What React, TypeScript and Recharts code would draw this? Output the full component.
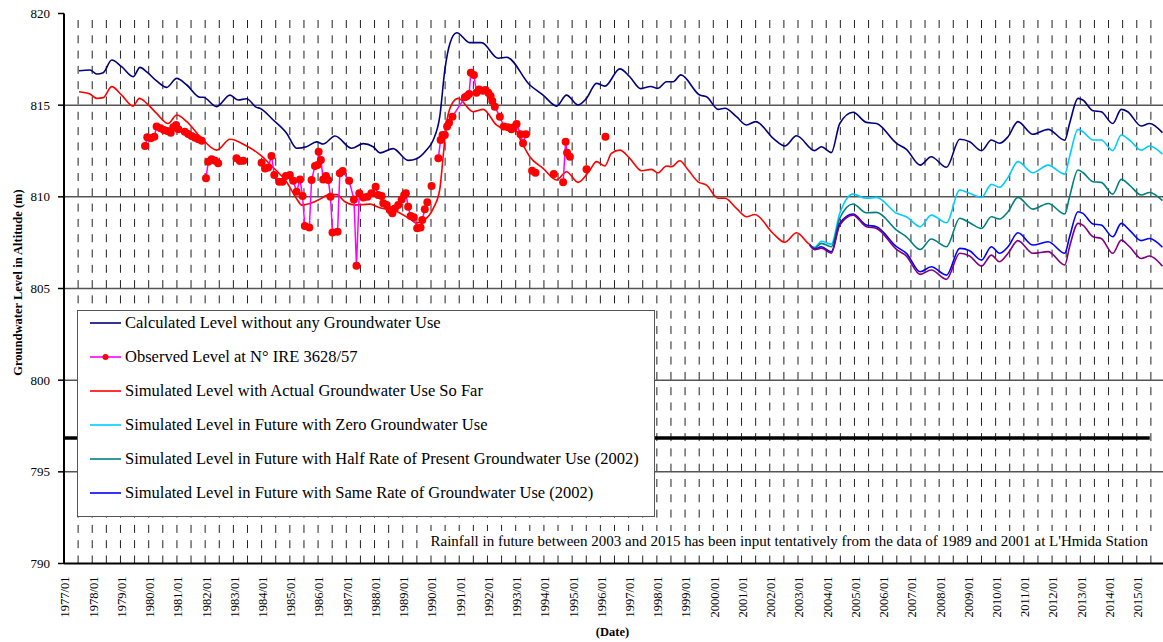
import React from "react";
import { Legend, Line, LineChart, ReferenceLine, XAxis, YAxis } from "recharts";

type Pt = [number, number | null];

// decimal year, level (m)
const calculated: Pt[] = [
  [1977.53, 816.88], [1977.92, 816.92], [1978.16, 816.7], [1978.39, 816.77], [1978.69, 817.46],
  [1979.04, 817.1], [1979.45, 816.55], [1979.69, 817.06], [1979.93, 816.82], [1980.28, 816.32],
  [1980.64, 815.97], [1980.99, 816.46], [1981.35, 816.1], [1981.82, 815.43], [1981.93, 815.43],
  [1982.41, 814.92], [1982.88, 815.55], [1983.17, 815.28], [1983.47, 815.35], [1983.82, 814.88],
  [1983.94, 814.83], [1984.41, 814.19], [1984.89, 813.46], [1985.24, 812.65], [1985.59, 812.73],
  [1985.95, 813.0], [1986.18, 812.88], [1986.6, 813.32], [1987.19, 812.65], [1987.6, 812.9],
  [1987.95, 812.73], [1988.19, 812.4], [1988.66, 812.63], [1989.19, 811.99], [1989.49, 812.08],
  [1989.84, 812.55], [1990.08, 813.1], [1990.31, 814.37], [1990.49, 816.92], [1990.67, 818.37],
  [1990.91, 818.95], [1991.38, 818.41], [1991.79, 818.41], [1992.38, 817.56], [1992.68, 817.61],
  [1993.5, 816.1], [1993.97, 815.55], [1994.45, 814.95], [1994.8, 815.55], [1995.21, 815.01],
  [1995.51, 815.37], [1995.86, 816.19], [1996.16, 816.04], [1996.69, 816.98], [1997.04, 816.55],
  [1997.43, 815.9], [1997.78, 816.02], [1998.04, 815.92], [1998.34, 816.28], [1998.58, 816.28],
  [1998.85, 816.65], [1999.52, 815.55], [1999.76, 815.46], [2000.17, 814.77], [2000.41, 814.83],
  [2000.82, 814.37], [2001.18, 813.92], [2001.5, 814.1], [2002.15, 813.15], [2002.53, 812.77],
  [2002.95, 813.33], [2003.59, 812.52], [2003.83, 812.73], [2004.18, 812.41], [2004.48, 814.0],
  [2004.95, 814.61], [2005.42, 814.06], [2005.78, 814.0], [2006.49, 812.92], [2006.84, 812.59],
  [2007.33, 811.73], [2007.72, 812.19], [2008.26, 811.61], [2008.73, 813.14], [2009.08, 813.0],
  [2009.5, 812.52], [2009.85, 813.1], [2010.14, 812.92], [2010.44, 813.28], [2010.79, 814.1],
  [2011.32, 813.41], [2011.86, 813.68], [2012.45, 813.09], [2012.62, 814.0], [2012.92, 815.37],
  [2013.09, 815.28], [2013.45, 814.7], [2013.74, 814.64], [2014.15, 814.0], [2014.45, 814.77],
  [2014.68, 814.64], [2015.16, 813.86], [2015.45, 814.0], [2015.91, 813.5],
];

// null = no reading, the line breaks there
const observed: Pt[] = [
  [1979.87, 812.77], [1979.95, 813.25], [1980.07, 813.19], [1980.2, 813.28], [1980.28, 813.83],
  [1980.42, 813.74], [1980.54, 813.64], [1980.66, 813.59], [1980.78, 813.5], [1980.87, 813.79],
  [1980.97, 813.92], [1981.05, 813.68], [1981.28, 813.55], [1981.4, 813.43], [1981.52, 813.32],
  [1981.64, 813.22], [1981.76, 813.14], [1981.88, 813.06], [1981.95, null],
  [1982.03, 811.01], [1982.11, 811.92], [1982.23, 812.05], [1982.35, 811.97], [1982.46, 811.83],
  [1982.8, null],
  [1983.11, 812.1], [1983.23, 811.95], [1983.35, 811.97], [1983.7, null],
  [1984.0, 811.86], [1984.12, 811.55], [1984.23, 811.6], [1984.35, 812.23], [1984.45, 811.19],
  [1984.62, 810.82], [1984.74, 810.82], [1984.86, 811.13], [1985.0, 811.19], [1985.12, 810.88],
  [1985.24, 810.28], [1985.36, 810.95], [1985.45, 810.04], [1985.53, 808.41], [1985.69, 808.33],
  [1985.77, 810.92], [1985.89, 811.68], [1985.98, 811.73], [1986.02, 812.46], [1986.1, 812.01],
  [1986.18, 810.95], [1986.28, 811.13], [1986.36, 810.92], [1986.44, 810.01], [1986.51, 808.06],
  [1986.69, 808.1], [1986.77, 811.28], [1986.87, 811.41], [1987.1, 810.88], [1987.27, 809.86],
  [1987.36, 806.24], [1987.46, 810.19], [1987.6, 809.97], [1987.75, 810.0], [1987.89, 810.19],
  [1988.04, 810.55], [1988.13, 810.1], [1988.25, 810.04], [1988.31, 809.65], [1988.43, 809.55],
  [1988.54, 809.28], [1988.63, 809.1], [1988.72, 809.37], [1988.84, 809.55], [1988.96, 809.86],
  [1989.05, 810.1], [1989.11, 810.19], [1989.19, 809.46], [1989.28, 808.95], [1989.39, 808.88],
  [1989.51, 808.28], [1989.63, 808.33], [1989.69, 808.73], [1989.78, 809.32], [1989.87, 809.7],
  [1989.95, null], [1990.02, 810.59], [1990.15, null],
  [1990.26, 812.1], [1990.34, 813.1], [1990.41, 813.37], [1990.49, 813.37], [1990.57, 813.83],
  [1990.64, 814.04], [1990.76, 814.37], [1991.2, 815.43], [1991.28, 815.5], [1991.35, 815.61],
  [1991.41, 816.77], [1991.52, 816.64], [1991.61, 815.68], [1991.7, 815.86], [1991.83, 815.79],
  [1991.93, 815.83], [1992.03, 815.68], [1992.11, 815.5], [1992.17, 815.23], [1992.26, 814.92],
  [1992.44, 814.37], [1992.58, 813.83], [1992.73, 813.79], [1992.85, 813.68], [1992.93, 813.79],
  [1993.03, 813.97], [1993.17, 813.41], [1993.26, 812.92], [1993.36, 813.41], [1993.47, null],
  [1993.58, 811.42], [1993.7, 811.31], [1994.0, null],
  [1994.35, 811.24], [1994.5, null],
  [1994.68, 810.79], [1994.77, 813.0], [1994.82, 812.41], [1994.92, 812.19], [1995.2, null],
  [1995.51, 811.5], [1995.8, null],
  [1996.18, 813.28],
];

const simulatedActual: Pt[] = [
  [1977.53, 815.73], [1977.92, 815.61], [1978.16, 815.37], [1978.39, 815.41], [1978.69, 816.01],
  [1979.04, 815.55], [1979.45, 814.95], [1979.67, 815.37], [1979.93, 815.1], [1980.28, 814.55],
  [1980.69, 814.0], [1980.99, 814.46], [1981.35, 814.1], [1981.82, 813.28], [1982.41, 812.55],
  [1982.88, 813.14], [1983.47, 812.77], [1983.94, 812.3], [1984.41, 811.6], [1984.89, 810.8],
  [1985.24, 809.9], [1985.42, 809.55], [1985.83, 809.7], [1986.01, 809.83], [1986.42, 810.12],
  [1986.66, 810.12], [1986.95, 809.73], [1987.3, 809.55], [1987.84, 809.6], [1988.19, 809.4],
  [1988.78, 809.2], [1989.25, 808.8], [1989.49, 808.58], [1989.72, 808.69], [1990.08, 809.37],
  [1990.31, 810.4], [1990.43, 812.2], [1990.55, 814.0], [1990.72, 815.0], [1990.96, 815.37],
  [1991.49, 814.64], [1991.85, 814.77], [1992.32, 813.92], [1992.56, 813.74], [1992.85, 813.92],
  [1993.26, 812.83], [1993.5, 812.19], [1993.97, 811.55], [1994.45, 810.92], [1994.8, 811.37],
  [1995.21, 810.79], [1995.63, 811.46], [1995.86, 811.92], [1996.16, 811.68], [1996.39, 812.37],
  [1996.69, 812.55], [1997.04, 812.1], [1997.46, 811.42], [1997.81, 811.5], [1998.04, 811.31],
  [1998.34, 811.68], [1998.52, 811.64], [1998.81, 811.97], [1999.11, 811.46], [1999.46, 810.82],
  [1999.76, 810.64], [2000.17, 809.92], [2000.41, 809.92], [2000.82, 809.37], [2001.18, 808.91],
  [2001.47, 809.04], [2002.12, 808.0], [2002.53, 807.52], [2002.95, 808.04], [2003.36, 807.46],
  [2003.45, 807.35],
];

const futureZero: Pt[] = [
  [2003.42, 807.37], [2003.59, 807.25], [2003.83, 807.58], [2004.18, 807.42], [2004.48, 809.1],
  [2004.95, 810.15], [2005.42, 809.92], [2005.78, 809.97], [2006.49, 809.1], [2006.84, 808.91],
  [2007.33, 808.37], [2007.72, 809.0], [2008.26, 808.59], [2008.73, 810.37], [2009.08, 810.19],
  [2009.5, 809.97], [2009.85, 810.68], [2010.14, 810.52], [2010.44, 811.06], [2010.79, 811.92],
  [2011.32, 811.31], [2011.86, 811.73], [2012.45, 811.24], [2012.62, 812.19], [2012.92, 813.68],
  [2013.09, 813.55], [2013.45, 813.1], [2013.74, 813.1], [2014.15, 812.52], [2014.45, 813.37],
  [2014.74, 813.1], [2015.16, 812.55], [2015.45, 812.77], [2015.91, 812.33],
];

const futureHalf: Pt[] = [
  [2003.42, 807.37], [2003.59, 807.2], [2003.83, 807.46], [2004.18, 807.28], [2004.48, 808.83],
  [2004.95, 809.61], [2005.42, 809.13], [2005.78, 809.15], [2006.49, 808.19], [2006.84, 807.82],
  [2007.33, 807.13], [2007.72, 807.7], [2008.26, 807.28], [2008.73, 808.83], [2009.08, 808.59],
  [2009.5, 808.28], [2009.85, 808.91], [2010.14, 808.79], [2010.44, 809.19], [2010.79, 809.97],
  [2011.32, 809.33], [2011.86, 809.64], [2012.45, 809.06], [2012.62, 810.01], [2012.92, 811.46],
  [2013.09, 811.33], [2013.45, 810.82], [2013.74, 810.79], [2014.15, 810.15], [2014.45, 810.95],
  [2014.74, 810.64], [2015.16, 810.1], [2015.45, 810.24], [2015.91, 809.79],
];

const futureSame: Pt[] = [
  [2003.42, 807.37], [2003.59, 807.15], [2003.83, 807.28], [2004.18, 807.0], [2004.48, 808.55],
  [2004.95, 809.06], [2005.42, 808.46], [2005.78, 808.37], [2006.49, 807.28], [2006.84, 806.92],
  [2007.33, 805.91], [2007.72, 806.19], [2008.26, 805.73], [2008.73, 807.19], [2009.08, 807.06],
  [2009.5, 806.55], [2009.85, 807.28], [2010.14, 806.92], [2010.44, 807.28], [2010.79, 808.04],
  [2011.32, 807.37], [2011.86, 807.55], [2012.45, 806.92], [2012.62, 807.82], [2012.92, 809.19],
  [2013.09, 809.1], [2013.45, 808.52], [2013.74, 808.46], [2014.15, 807.82], [2014.45, 808.55],
  [2014.74, 808.19], [2015.16, 807.61], [2015.45, 807.73], [2015.91, 807.25],
];

// purple curve, not in the legend
const futureSameLow: Pt[] = [
  [2003.42, 807.37], [2003.59, 807.12], [2003.83, 807.2], [2004.18, 806.92], [2004.48, 808.46],
  [2004.95, 809.0], [2005.42, 808.37], [2005.78, 808.28], [2006.49, 807.13], [2006.84, 806.77],
  [2007.33, 805.77], [2007.72, 806.01], [2008.26, 805.5], [2008.73, 806.92], [2009.08, 806.77],
  [2009.5, 806.22], [2009.85, 806.82], [2010.14, 806.46], [2010.44, 806.92], [2010.79, 807.61],
  [2011.32, 806.92], [2011.86, 807.01], [2012.45, 806.28], [2012.62, 807.28], [2012.92, 808.55],
  [2013.09, 808.46], [2013.45, 807.82], [2013.74, 807.73], [2014.15, 806.92], [2014.45, 807.64],
  [2014.74, 807.28], [2015.16, 806.64], [2015.45, 806.77], [2015.91, 806.22],
];

const baseLevel: Pt[] = [[1977, 796.85], [2015.46, 796.85]];

const yearTicks = [
  1977, 1978, 1979, 1980, 1981, 1982, 1983, 1984, 1985, 1986, 1987, 1988, 1989,
  1990, 1991, 1992, 1993, 1994, 1995, 1996, 1997, 1998, 1999, 2000, 2001, 2002,
  2003, 2004, 2005, 2006, 2007, 2008, 2009, 2010, 2011, 2012, 2013, 2014, 2015,
];
const levelTicks = [790, 795, 800, 805, 810, 815, 820];
const levelGrid = [795, 800, 805, 810, 815];
const halfYearGrid = yearTicks.flatMap((y) => [y + 0.5, y + 1]).filter((t) => t < 2016);

const NAMES = {
  calc: "Calculated Level without any Groundwater Use",
  obs: "Observed Level at N° IRE 3628/57",
  sim: "Simulated Level with Actual Groundwater Use So Far",
  zero: "Simulated Level in Future with Zero Groundwater Use",
  half: "Simulated Level in Future with Half Rate of Present Groundwater Use (2002)",
  same: "Simulated Level in Future with Same Rate of Groundwater Use (2002)",
};
const legendOrder = [NAMES.calc, NAMES.obs, NAMES.sim, NAMES.zero, NAMES.half, NAMES.same];

const NOTE =
  "Rainfall in future between 2003 and 2015 has been input tentatively from the data of 1989 and 2001 at L'Hmida Station";

const FONT = '"Liberation Serif", "Times New Roman", serif';

const rows = (pts: Pt[]) => pts.map(([t, v]) => ({ t, v }));

function YearTick(props: any) {
  const { x, y, payload } = props;
  return (
    <text
      x={0}
      y={0}
      transform={`translate(${x + 1},${y + 13}) rotate(-90)`}
      textAnchor="end"
      dy="0.35em"
      fontSize={12.5}
      fontFamily={FONT}
      fill="#000"
    >
      {`${payload.value}/01`}
    </text>
  );
}

function LegendBox(props: any) {
  const items = (props.payload || [])
    .filter((it: any) => legendOrder.includes(it.value))
    .sort((a: any, b: any) => legendOrder.indexOf(a.value) - legendOrder.indexOf(b.value));
  return (
    <div
      style={{
        width: 578,
        height: 207,
        boxSizing: "border-box",
        border: "1.5px solid #555",
        background: "#fff",
        padding: "2px 0 0 12px",
        fontFamily: FONT,
        fontSize: 16.5,
        color: "#000",
      }}
    >
      {items.map((it: any) => (
        <div key={it.value} style={{ height: 20, marginBottom: 14, display: "flex", alignItems: "center" }}>
          <svg width={31} height={10} style={{ marginRight: 4 }}>
            <line x1={0} y1={5} x2={31} y2={5} stroke={it.color} strokeWidth={1.6} />
            {it.value === NAMES.obs && <circle cx={15.5} cy={5} r={3} fill="#ff0000" />}
          </svg>
          <span style={{ whiteSpace: "nowrap" }}>{it.value}</span>
        </div>
      ))}
    </div>
  );
}

function YTitle(props: any) {
  const vb = props.viewBox;
  const cx = vb.x + 18;
  const cy = vb.y + vb.height / 2 - 6;
  return (
    <text
      x={cx}
      y={cy}
      transform={`rotate(-90, ${cx}, ${cy})`}
      textAnchor="middle"
      dominantBaseline="central"
      fontSize={12.5}
      fontWeight="bold"
      fontFamily={FONT}
      fill="#000"
    >
      Groundwater Level in Altitude (m)
    </text>
  );
}

function XTitle(props: any) {
  const vb = props.viewBox;
  return (
    <text
      x={vb.x + vb.width / 2 - 2}
      y={vb.y + 68}
      textAnchor="middle"
      dominantBaseline="central"
      fontSize={12.5}
      fontWeight="bold"
      fontFamily={FONT}
      fill="#000"
    >
      (Date)
    </text>
  );
}

export default function App() {
  return (
    <div
      style={{
        position: "absolute",
        left: 0,
        top: 0,
        width: 1163,
        height: 642,
        overflow: "hidden",
        background: "#fff",
        fontFamily: FONT,
      }}
    >
      <LineChart width={1165} height={642} margin={{ top: 13.5, right: 0, bottom: 0, left: 0 }}>
        <XAxis
          type="number"
          dataKey="t"
          domain={[1977, 2016]}
          ticks={yearTicks}
          interval={0}
          allowDataOverflow
          height={78.5}
          tickLine={false}
          tickSize={0}
          tickMargin={0}
          tick={<YearTick />}
          axisLine={{ stroke: "#000", strokeWidth: 2 }}
          label={{ content: <XTitle /> }}
        />
        <YAxis
          type="number"
          domain={[790, 820]}
          ticks={levelTicks}
          interval={0}
          allowDataOverflow
          width={64}
          tickSize={6}
          tickMargin={8}
          tick={{ fontSize: 13, fill: "#000", fontFamily: FONT }}
          tickLine={{ stroke: "#000", strokeWidth: 1.5 }}
          axisLine={{ stroke: "#000", strokeWidth: 2 }}
          label={{ content: <YTitle /> }}
        />
        {halfYearGrid.map((t) => (
          <ReferenceLine key={`v${t}`} x={t} stroke="#222" strokeWidth={1} strokeDasharray="8 7.3" />
        ))}
        {levelGrid.map((v) => (
          <ReferenceLine key={`h${v}`} y={v} stroke="#555" strokeWidth={1.5} />
        ))}
        <Line
          data={rows(baseLevel)}
          dataKey="v"
          name="base"
          legendType="none"
          stroke="#000"
          strokeWidth={3.5}
          dot={false}
          type="linear"
          isAnimationActive={false}
        />
        <Line
          data={rows(calculated)}
          dataKey="v"
          name={NAMES.calc}
          stroke="#000080"
          strokeWidth={1.6}
          dot={false}
          type="monotone"
          isAnimationActive={false}
        />
        <Line
          data={rows(simulatedActual)}
          dataKey="v"
          name={NAMES.sim}
          stroke="#ff0000"
          strokeWidth={1.6}
          dot={false}
          type="monotone"
          isAnimationActive={false}
        />
        <Line
          data={rows(futureZero)}
          dataKey="v"
          name={NAMES.zero}
          stroke="#00ccff"
          strokeWidth={1.6}
          dot={false}
          type="monotone"
          isAnimationActive={false}
        />
        <Line
          data={rows(futureHalf)}
          dataKey="v"
          name={NAMES.half}
          stroke="#008080"
          strokeWidth={1.6}
          dot={false}
          type="monotone"
          isAnimationActive={false}
        />
        <Line
          data={rows(futureSame)}
          dataKey="v"
          name={NAMES.same}
          stroke="#0000ff"
          strokeWidth={1.6}
          dot={false}
          type="monotone"
          isAnimationActive={false}
        />
        <Line
          data={rows(futureSameLow)}
          dataKey="v"
          name="lower"
          legendType="none"
          stroke="#800080"
          strokeWidth={1.6}
          dot={false}
          type="monotone"
          isAnimationActive={false}
        />
        <Line
          data={rows(observed)}
          dataKey="v"
          name={NAMES.obs}
          stroke="#ff00ff"
          strokeWidth={1.5}
          dot={{ r: 4, fill: "#ff0000", stroke: "#ff0000", strokeWidth: 0 }}
          connectNulls={false}
          type="linear"
          isAnimationActive={false}
        />
        <Legend
          layout="vertical"
          align="center"
          verticalAlign="middle"
          content={<LegendBox />}
          wrapperStyle={{ left: 77, top: 310, width: 578, height: 207 }}
        />
      </LineChart>
      <div
        style={{
          position: "absolute",
          left: 418,
          top: 531,
          width: 734,
          height: 20,
          lineHeight: "20px",
          background: "#fff",
          textAlign: "right",
          paddingRight: 4,
          boxSizing: "border-box",
          fontSize: 15,
          whiteSpace: "nowrap",
          color: "#000",
        }}
      >
        {NOTE}
      </div>
    </div>
  );
}
